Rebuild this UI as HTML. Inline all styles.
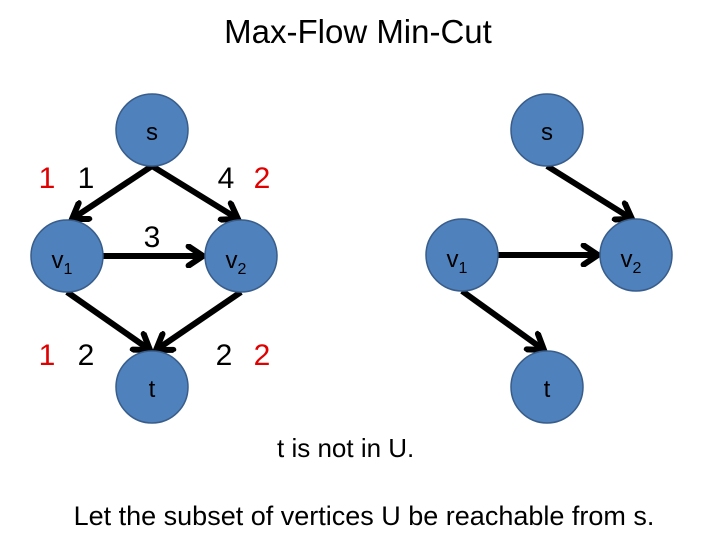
<!DOCTYPE html>
<html><head><meta charset="utf-8"><style>
body{margin:0;background:#fff;}
svg{display:block;font-family:"Liberation Sans",sans-serif;}
</style></head><body>
<svg width="720" height="540" viewBox="0 0 720 540">
<defs>
<marker id="a" markerUnits="userSpaceOnUse" markerWidth="24" markerHeight="24" refX="16" refY="10" orient="auto" viewBox="0 0 20 20">
<path d="M4,2 L16,10 L4,18" fill="none" stroke="#000" stroke-width="5" stroke-linecap="round" stroke-linejoin="miter"/>
</marker>
</defs>
<text x="358" y="43" font-size="33" text-anchor="middle">Max-Flow Min-Cut</text>
<g stroke="#000" stroke-width="6" marker-end="url(#a)">
<line x1="152" y1="166" x2="72" y2="219"/>
<line x1="152" y1="166" x2="238" y2="219"/>
<line x1="103" y1="256" x2="203" y2="256"/>
<line x1="67" y1="292" x2="150" y2="350"/>
<line x1="241" y1="292" x2="156" y2="350"/>
<line x1="547" y1="166" x2="632" y2="219"/>
<line x1="498" y1="255" x2="598" y2="255"/>
<line x1="462" y1="291" x2="544" y2="350"/>
</g>
<g fill="#4f81bd" stroke="#385d8a" stroke-width="1.5">
<circle cx="152" cy="130" r="36"/><circle cx="67" cy="256" r="36"/><circle cx="241" cy="256" r="36"/><circle cx="152" cy="387" r="36"/>
<circle cx="547" cy="130" r="36"/><circle cx="462" cy="255" r="36"/><circle cx="636" cy="255" r="36"/><circle cx="547" cy="387" r="36"/>
</g>
<g font-size="24" text-anchor="middle" fill="#000">
<text x="152" y="140">s</text><text x="547" y="140">s</text>
<text x="152" y="397">t</text><text x="547" y="397">t</text>
<text x="62" y="268">v<tspan font-size="16" dy="6">1</tspan></text>
<text x="236" y="268">v<tspan font-size="16" dy="6">2</tspan></text>
<text x="457" y="267">v<tspan font-size="16" dy="6">1</tspan></text>
<text x="631" y="267">v<tspan font-size="16" dy="6">2</tspan></text>
</g>
<g font-size="30" text-anchor="middle">
<text x="47" y="188" fill="#e00000">1</text><text x="86" y="188">1</text>
<text x="226" y="188">4</text><text x="262" y="188" fill="#e00000">2</text>
<text x="152" y="247">3</text>
<text x="47" y="365" fill="#e00000">1</text><text x="86" y="365">2</text>
<text x="224" y="365">2</text><text x="262" y="365" fill="#e00000">2</text>
</g>
<text x="277" y="457" font-size="26">t is not in U.</text>
<text x="364" y="525" font-size="27" text-anchor="middle">Let the subset of vertices U be reachable from s.</text>
</svg>
</body></html>
